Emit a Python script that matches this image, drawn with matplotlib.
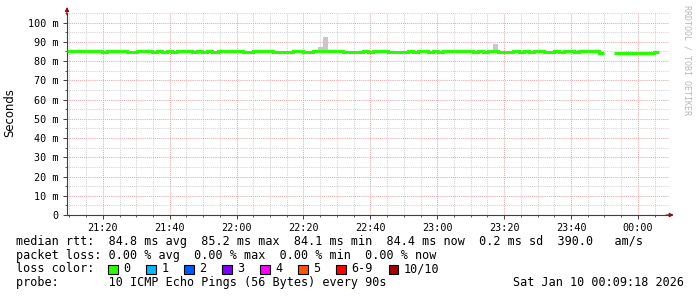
import numpy as np
import pandas as pd
import matplotlib
matplotlib.use('Agg')
import matplotlib.pyplot as plt
import matplotlib.dates as mdates
from matplotlib.patches import Rectangle
from matplotlib.ticker import MultipleLocator, FuncFormatter

# ---------------- data ----------------
start_time = '2026-01-09 21:09:18'
step_seconds = 90
nan = float('nan')

median_ms = [
    85.2, 85.2, 85.2, 85.2, 85.2, 85.2, 85.2, 84.7, 85.2, 85.2,
    85.2, 85.2, 84.7, 84.7, 85.2, 85.2, 85.2, 84.7, 85.2, 84.7,
    85.2, 84.7, 85.2, 85.2, 85.2, 84.7, 85.2, 84.7, 85.2, 84.7,
    85.2, 85.2, 85.2, 85.2, 85.2, 84.7, 84.7, 85.2, 85.2, 85.2,
    85.2, 84.7, 84.7, 84.7, 84.7, 85.2, 85.2, 84.7, 84.7, 85.2,
    85.2, 85.2, 85.2, 85.2, 85.2, 84.7, 84.7, 84.7, 84.7, 85.2,
    84.7, 85.2, 85.2, 85.2, 84.7, 84.7, 84.7, 84.7, 85.2, 84.7,
    85.2, 85.2, 84.7, 85.2, 84.7, 85.2, 85.2, 85.2, 85.2, 85.2,
    85.2, 84.7, 85.2, 84.7, 85.2, 85.2, 84.7, 84.7, 84.7, 85.2,
    84.7, 85.2, 84.7, 85.2, 85.2, 84.7, 84.7, 85.2, 84.7, 85.2,
    85.2, 84.7, 85.2, 85.2, 85.0, 85.0, 84.1, nan, nan, 84.2,
    84.2, 84.2, 84.2, 84.2, 84.2, 84.2, 84.2, 84.7, nan, nan,
]

smoke_steps = [25, 50, 51, 62, 84, 85, 90, 93, 98, 101]
smoke_top_ms = [85.6, 87.2, 92.4, 85.7, 86.0, 88.8, 85.6, 85.6, 85.6, 85.6]

ytick_values = [0, 10, 20, 30, 40, 50, 60, 70, 80, 90, 100]

stats_lines = [
    "median rtt:  84.8 ms avg  85.2 ms max  84.1 ms min  84.4 ms now  0.2 ms sd  390.0   am/s",
    "packet loss: 0.00 % avg  0.00 % max  0.00 % min  0.00 % now",
    "loss color:",
    "probe:       10 ICMP Echo Pings (56 Bytes) every 90s",
]
date_text = "Sat Jan 10 00:09:18 2026"
loss_labels = ['0', '1', '2', '3', '4', '5', '6-9', '10/10']
loss_colors = ['#26ff00', '#00b8ff', '#0059ff', '#7e00ff',
               '#ff00ff', '#ff5500', '#ff0000', '#a10000']

# ---------------- figure ----------------
W, H = 697, 297
fig = plt.figure(figsize=(W / 100, H / 100), dpi=100, facecolor='white')
mono = 'DejaVu Sans Mono'

ax = fig.add_axes([67 / W, (H - 215) / H, (669 - 67) / W, (215 - 13) / H])
ax.set_facecolor('white')

times = pd.date_range(start_time, periods=len(median_ms), freq=f'{step_seconds}s')
edge_times = list(times) + [times[-1] + pd.Timedelta(seconds=step_seconds)]
edges = mdates.date2num(edge_times)
step_w = edges[1] - edges[0]
med = np.array(median_ms, dtype=float)

# smoke
s_idx = np.array(smoke_steps)
s_top = np.array(smoke_top_ms)
ax.bar(edges[s_idx], s_top - med[s_idx], bottom=med[s_idx], width=step_w,
       align='edge', color='#c8c8c8', linewidth=0, zorder=2)

# median line
ax.stairs(med, edges, baseline=None, color='#26ff00', linewidth=2.2, zorder=3)

ax.set_xlim(edges[0], edges[-1])
ax.set_ylim(0, 105)

# grids
ax.yaxis.set_major_locator(matplotlib.ticker.FixedLocator(ytick_values))
ax.yaxis.set_minor_locator(MultipleLocator(5))
ax.yaxis.set_major_formatter(FuncFormatter(lambda v, p: '0' if v == 0 else f'{int(v)} m'))
ax.xaxis.set_major_locator(mdates.MinuteLocator(byminute=[0, 20, 40]))
ax.xaxis.set_minor_locator(mdates.MinuteLocator(byminute=range(0, 60, 5)))
ax.xaxis.set_major_formatter(mdates.DateFormatter('%H:%M'))

ax.grid(which='minor', color='#d4d4d4', linestyle=(0, (1, 1)), linewidth=0.75)
ax.grid(which='major', color='#eba8a8', linestyle=(0, (1, 1)), linewidth=0.75)
ax.set_axisbelow(True)

for side in ['top', 'right']:
    ax.spines[side].set_visible(False)
for side in ['left', 'bottom']:
    ax.spines[side].set_color('#404040')
    ax.spines[side].set_linewidth(0.8)

ax.tick_params(which='major', length=3, width=0.7, color='#404040', pad=3,
               labelsize=7.3, labelcolor='black')
ax.tick_params(which='minor', length=1.5, width=0.6, color='#404040')
for lab in ax.get_xticklabels() + ax.get_yticklabels():
    lab.set_fontfamily(mono)

# arrows
ax.annotate('', xy=(0, 1.03), xytext=(0, 0.99), xycoords='axes fraction',
            arrowprops=dict(arrowstyle='-|>', color='#8b1010', lw=0.8,
                            mutation_scale=6, shrinkA=0, shrinkB=0))
ax.annotate('', xy=(1.008, 0), xytext=(0.995, 0), xycoords='axes fraction',
            arrowprops=dict(arrowstyle='-|>', color='#8b1010', lw=0.8,
                            mutation_scale=6, shrinkA=0, shrinkB=0))

# y label
fig.text(10 / W, 1 - 113 / H, 'Seconds', rotation=90, ha='center', va='center',
         fontsize=8.4, family='DejaVu Sans')

# watermark
fig.text(687 / W, 1 - 60 / H, 'RRDTOOL / TOBI OETIKER', rotation=-90,
         ha='center', va='center', fontsize=6, family=mono, color='#b8b8b8')

# legend / stats text
row_y = [241.5, 255.2, 269.0, 282.8]
for txt, y in zip(stats_lines, row_y):
    fig.text(16 / W, 1 - y / H, txt, ha='left', va='center', fontsize=8.5,
             family=mono, color='black')
fig.text(513 / W, 1 - row_y[3] / H, date_text, ha='left', va='center',
         fontsize=8.5, family=mono, color='black')

char_w = 7.1
box_x = 108.3
for lab, col in zip(loss_labels, loss_colors):
    fig.add_artist(Rectangle((box_x / W, 1 - 274 / H), 9.5 / W, 9.5 / H,
                             transform=fig.transFigure, facecolor=col,
                             edgecolor='black', linewidth=0.8))
    lx = box_x + 15
    fig.text(lx / W, 1 - row_y[2] / H, lab, ha='left', va='center',
             fontsize=8.5, family=mono, color='black')
    box_x = lx + len(lab) * char_w + 15.9

fig.savefig('out.png', dpi=100, facecolor='white')
